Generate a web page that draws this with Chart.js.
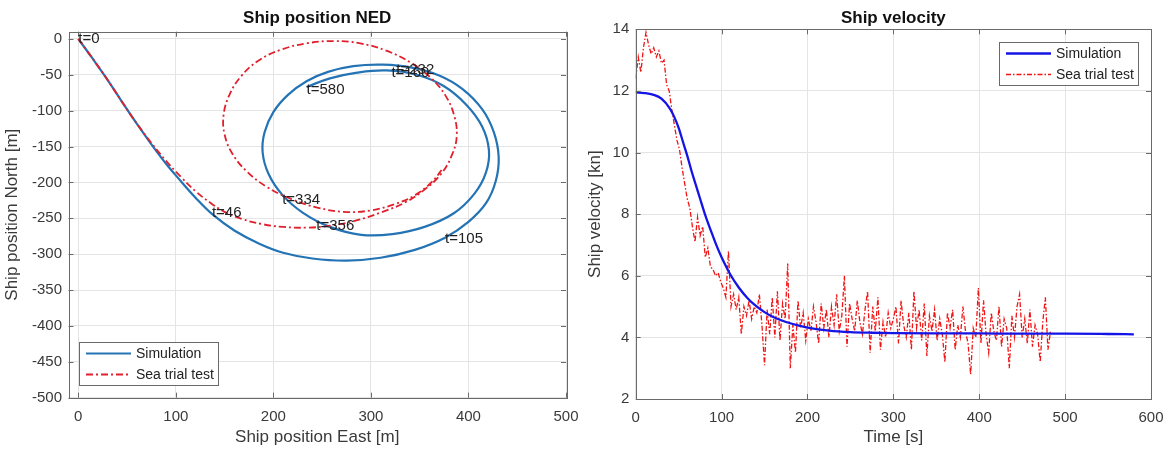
<!DOCTYPE html>
<html>
<head>
<meta charset="utf-8">
<title>Ship position NED / Ship velocity</title>
<script src="https://cdn.jsdelivr.net/npm/chart.js@4.4.0/dist/chart.umd.min.js"></script>
<style>
  html, body { margin: 0; padding: 0; background: #fff; }
  #wrap { position: relative; width: 1166px; height: 450px; }
  canvas { position: absolute; top: 0; }
  #c-pos { left: 0; }
  #c-vel { left: 583px; }
</style>
</head>
<body>
<div id="wrap">
  <canvas id="c-pos" width="583" height="450"></canvas>
  <canvas id="c-vel" width="583" height="450"></canvas>
</div>
<script>
/* ---------------- data: ship track (East / North, m) ---------------- */
const simEast  = [0, 15, 30, 45, 60, 75, 90, 105, 120, 138, 160, 185, 210, 240, 275, 310, 345, 376, 400, 418, 428, 431, 426, 414, 394, 370, 342, 312, 282, 256, 234, 215, 200, 191, 189, 195, 209, 230, 258, 290, 322, 355, 385, 406, 418, 421, 414, 398, 375, 347, 316, 286, 258, 234];
const simNorth = [0, -28, -57, -88, -118, -147, -174, -198, -221, -245, -267, -285, -298, -306, -309, -305, -294, -277, -255, -229, -198, -165, -130, -98, -70, -51, -40, -36, -38, -46, -59, -78, -102, -130, -158, -188, -217, -242, -262, -273, -272, -262, -243, -216, -186, -155, -122, -92, -66, -50, -44, -47, -55, -67];

const trialEast  = [0, 15, 30, 45, 60, 75, 90, 105, 120, 135, 150, 168, 188, 210, 235, 260, 285, 310, 335, 355, 372, 383, 388, 385, 376, 362, 342, 315, 288, 262, 235, 208, 185, 167, 155, 149, 150, 158, 173, 193, 218, 245, 272, 300, 325, 345, 362, 374];
const trialNorth = [0, -28, -57, -88, -118, -145, -170, -192, -212, -228, -241, -251, -258, -262, -263, -260, -253, -242, -228, -210, -188, -162, -135, -105, -78, -55, -34, -16, -6, -3, -6, -15, -30, -52, -78, -106, -133, -160, -185, -206, -223, -235, -241, -239, -230, -218, -200, -180];

// time stamps written on the track
const markText  = ['t=0', 't=46', 't=105', 't=232', 't=160', 't=580', 't=334', 't=356'];
const markEast  = [0, 137, 376, 326, 321, 234, 209, 244];
const markNorth = [0, -243, -278, -43, -47, -71, -225, -261];

const eastTicks  = [0, 100, 200, 300, 400, 500];
const northTicks = [-500, -450, -400, -350, -300, -250, -200, -150, -100, -50, 0];

/* ---------------- data: ship velocity (kn) ---------------- */
const simTime  = [0, 10, 20, 30, 40, 45, 50, 55, 60, 65, 70, 75, 80, 85, 90, 95, 100, 110, 120, 130, 140, 150, 160, 175, 190, 200, 225, 250, 275, 300, 350, 400, 450, 500, 550, 580];
const simSpeed = [11.95, 11.93, 11.88, 11.75, 11.42, 11.15, 10.8, 10.35, 9.9, 9.4, 8.95, 8.5, 8.05, 7.65, 7.28, 6.92, 6.6, 6.05, 5.62, 5.28, 5.02, 4.82, 4.66, 4.5, 4.38, 4.32, 4.22, 4.17, 4.15, 4.14, 4.13, 4.13, 4.12, 4.12, 4.11, 4.1];

const trialTime = [0, 3, 6, 9, 12, 15, 18, 21, 24, 27, 30, 33, 36, 39, 42, 45, 48, 51, 54, 57,
  60, 63, 66, 69, 72, 75, 78, 81, 84, 87, 90, 93, 96, 99, 102, 105, 108, 111, 114, 117,
  120, 123, 126, 129, 132, 135, 138, 141, 144, 147, 150, 153, 156, 159, 162, 165, 168, 171, 174, 177,
  180, 183, 186, 189, 192, 195, 198, 201, 204, 207, 210, 213, 216, 219, 222, 225, 228, 231, 234, 237,
  240, 243, 246, 249, 252, 255, 258, 261, 264, 267, 270, 273, 276, 279, 282, 285, 288, 291, 294, 297,
  300, 303, 306, 309, 312, 315, 318, 321, 324, 327, 330, 333, 336, 339, 342, 345, 348, 351, 354, 357,
  360, 363, 366, 369, 372, 375, 378, 381, 384, 387, 390, 393, 396, 399, 402, 405, 408, 411, 414, 417,
  420, 423, 426, 429, 432, 435, 438, 441, 444, 447, 450, 453, 456, 459, 462, 465, 468, 471, 474, 477,
  480, 483];
const trialSpeed = [12.4, 13.1, 12.6, 13.4, 13.9, 13.5, 13.2, 13.4, 13.1, 13.3, 12.9, 13.0, 12.2, 12.0, 11.4, 10.9, 10.4, 10.1, 9.5, 9.0,
  8.5, 8.2, 7.6, 7.1, 7.9, 7.3, 7.6, 6.6, 6.9, 6.3, 6.2, 6.0, 6.1, 5.8, 5.6, 5.3, 6.8, 5.0, 5.4, 4.9,
  5.3, 4.1, 5.0, 4.7, 5.2, 4.6, 5.0, 4.8, 5.4, 4.4, 3.1, 4.9, 4.1, 5.3, 4.0, 5.5, 3.9, 5.1, 4.6, 6.4,
  3.0, 4.4, 3.5, 5.2, 4.3, 4.8, 3.9, 4.6, 4.2, 5.0, 4.5, 3.8, 5.1, 4.3, 4.9, 4.0, 5.0, 4.4, 5.4, 4.2,
  4.7, 6.0, 3.7, 5.1, 4.6, 4.2, 5.2, 4.5, 4.1, 4.9, 5.5, 3.5, 5.0, 4.2, 5.3, 3.6, 4.5, 4.0, 4.8, 4.3,
  4.6, 5.0, 3.8, 5.2, 4.4, 4.0, 4.8, 3.6, 5.5, 4.3, 4.9, 3.9, 5.1, 3.4, 4.7, 4.2, 4.9, 3.9, 4.6, 4.1,
  3.2, 4.8, 4.3, 4.9, 3.6, 4.4, 4.0, 5.0, 4.2, 3.8, 2.8, 4.3, 4.0, 5.6, 3.8, 5.2, 4.1, 3.5, 4.8, 4.2,
  3.9, 5.0, 3.7, 4.6, 4.3, 3.0, 4.7, 4.0, 5.0, 5.4, 4.0, 4.6, 3.8, 4.9, 3.7, 4.4, 4.1, 3.2, 4.5, 5.3,
  3.6, 4.2];

const timeTicks  = [0, 100, 200, 300, 400, 500, 600];
const speedTicks = [2, 4, 6, 8, 10, 12, 14];

/* ---------------- look ---------------- */
const FONT = '"Liberation Sans", Arial, Helvetica, sans-serif';
const TXT = '#3a3a3a';
const GRID = '#e4e4e4';
const AXIS = '#6a6a6a';

Chart.defaults.font.family = FONT;
Chart.defaults.animation = false;

const pairs = (xs, ys) => xs.map((x, i) => ({ x: x, y: ys[i] }));

/* MATLAB style frame: box, inward ticks, title, text marks, legend */
const matlabAxes = {
  id: 'matlabAxes',
  afterDraw(chart, args, o) {
    const { ctx, chartArea: a, scales } = chart;
    const sx = scales.x, sy = scales.y;
    ctx.save();

    // tick marks pointing inwards
    ctx.strokeStyle = AXIS;
    ctx.lineWidth = 1;
    ctx.beginPath();
    sx.ticks.forEach(t => {
      const p = Math.round(sx.getPixelForValue(t.value)) + 0.5;
      ctx.moveTo(p, a.bottom); ctx.lineTo(p, a.bottom - 5);
      ctx.moveTo(p, a.top);    ctx.lineTo(p, a.top + 5);
    });
    sy.ticks.forEach(t => {
      const p = Math.round(sy.getPixelForValue(t.value)) + 0.5;
      ctx.moveTo(a.left, p);  ctx.lineTo(a.left + 5, p);
      ctx.moveTo(a.right, p); ctx.lineTo(a.right - 5, p);
    });
    ctx.stroke();
    ctx.strokeRect(Math.round(a.left) + 0.5, Math.round(a.top) + 0.5,
                   Math.round(a.right - a.left), Math.round(a.bottom - a.top));

    // text marks
    ctx.fillStyle = '#222';
    ctx.font = '15px ' + FONT;
    ctx.textAlign = 'left';
    ctx.textBaseline = 'middle';
    (o.marks || []).forEach(m => {
      ctx.fillText(m.text, sx.getPixelForValue(m.x), sy.getPixelForValue(m.y));
    });

    // legend
    const lg = o.legend;
    if (lg) {
      const w = 139, h = 43;
      const bx = lg.side === 'left' ? a.left + 10.5 : a.right - 13 - w;
      const by = lg.vert === 'bottom' ? a.bottom - 12.7 - h : a.top + 12.7;
      ctx.fillStyle = '#fff';
      ctx.fillRect(bx, by, w, h);
      ctx.strokeStyle = AXIS;
      ctx.lineWidth = 1;
      ctx.strokeRect(Math.round(bx) + 0.5, Math.round(by) + 0.5, w, h);
      ctx.font = '14px ' + FONT;
      chart.data.datasets.forEach((ds, i) => {
        const yy = by + 11.5 + i * 21;
        ctx.save();
        ctx.strokeStyle = ds.borderColor;
        ctx.lineWidth = ds.borderWidth;
        ctx.setLineDash(ds.borderDash || []);
        ctx.beginPath();
        ctx.moveTo(bx + 7, yy);
        ctx.lineTo(bx + 52, yy);
        ctx.stroke();
        ctx.restore();
        ctx.fillStyle = '#222';
        ctx.fillText(ds.label, bx + 57, yy + 0.5);
      });
    }

    // title, centred on the plot box
    ctx.fillStyle = '#111';
    ctx.font = 'bold 17px ' + FONT;
    ctx.textAlign = 'center';
    ctx.textBaseline = 'middle';
    ctx.fillText(o.title, (a.left + a.right) / 2, 18);
    ctx.restore();
  }
};

function axisOpts(min, max, tickVals, title, fitSize, vertical, pad) {
  return {
    type: 'linear',
    min: min, max: max,
    afterBuildTicks: (s) => { s.ticks = tickVals.map(v => ({ value: v })); },
    ticks: {
      color: TXT, padding: pad,
      font: { size: 15 }, maxRotation: 0, autoSkip: false
    },
    grid: { color: GRID, drawTicks: false },
    border: { display: false },
    title: { display: true, text: title, color: TXT, font: { size: 17 }, padding: { top: 2, bottom: 2 } },
    afterFit: (s) => {
      // plot box is fixed by layout padding only
      s.paddingLeft = 0; s.paddingRight = 0; s.paddingTop = 0; s.paddingBottom = 0;
      if (vertical) s.width = fitSize; else s.height = fitSize;
    }
  };
}

/* ---------------- left: ship position NED ---------------- */
new Chart(document.getElementById('c-pos'), {
  type: 'scatter',
  data: {
    datasets: [
      {
        label: 'Simulation',
        data: pairs(simEast, simNorth),
        showLine: true, pointRadius: 0, tension: 0.4,
        borderColor: '#2474b5', borderWidth: 2.2, order: 1
      },
      {
        label: 'Sea trial test',
        data: pairs(trialEast, trialNorth),
        showLine: true, pointRadius: 0, tension: 0.4,
        borderColor: '#e0202c', borderWidth: 1.8, borderDash: [7, 3, 2, 3], order: 0
      }
    ]
  },
  options: {
    responsive: false,
    devicePixelRatio: 1,
    layout: { padding: { left: 0, right: 17, top: 31.7, bottom: 0 } },
    scales: {
      x: axisOpts(-10, 500, eastTicks, 'Ship position East [m]', 52.3, false, 10),
      y: axisOpts(-500, 10, northTicks, 'Ship position North [m]', 68.5, true, 6.5)
    },
    plugins: {
      legend: { display: false },
      tooltip: { enabled: false },
      matlabAxes: {
        title: 'Ship position NED',
        marks: markText.map((t, i) => ({ text: t, x: markEast[i], y: markNorth[i] })),
        legend: { side: 'left', vert: 'bottom' }
      }
    }
  },
  plugins: [matlabAxes]
});

/* ---------------- right: ship velocity ---------------- */
new Chart(document.getElementById('c-vel'), {
  type: 'scatter',
  data: {
    datasets: [
      {
        label: 'Simulation',
        data: pairs(simTime, simSpeed),
        showLine: true, pointRadius: 0, tension: 0.4, cubicInterpolationMode: 'monotone',
        borderColor: '#1414e6', borderWidth: 2.3, order: 0
      },
      {
        label: 'Sea trial test',
        data: pairs(trialTime, trialSpeed),
        showLine: true, pointRadius: 0, tension: 0,
        borderColor: '#f01414', borderWidth: 1.3, borderDash: [5, 2, 1.5, 2], order: 1
      }
    ]
  },
  options: {
    responsive: false,
    devicePixelRatio: 1,
    layout: { padding: { left: 0, right: 15, top: 29.3, bottom: 0 } },
    scales: {
      x: axisOpts(0, 600, timeTicks, 'Time [s]', 51, false, 10),
      y: axisOpts(2, 14, speedTicks, 'Ship velocity [kn]', 52.7, true, 6.4)
    },
    plugins: {
      legend: { display: false },
      tooltip: { enabled: false },
      matlabAxes: {
        title: 'Ship velocity',
        legend: { side: 'right', vert: 'top' }
      }
    }
  },
  plugins: [matlabAxes]
});
</script>
</body>
</html>
